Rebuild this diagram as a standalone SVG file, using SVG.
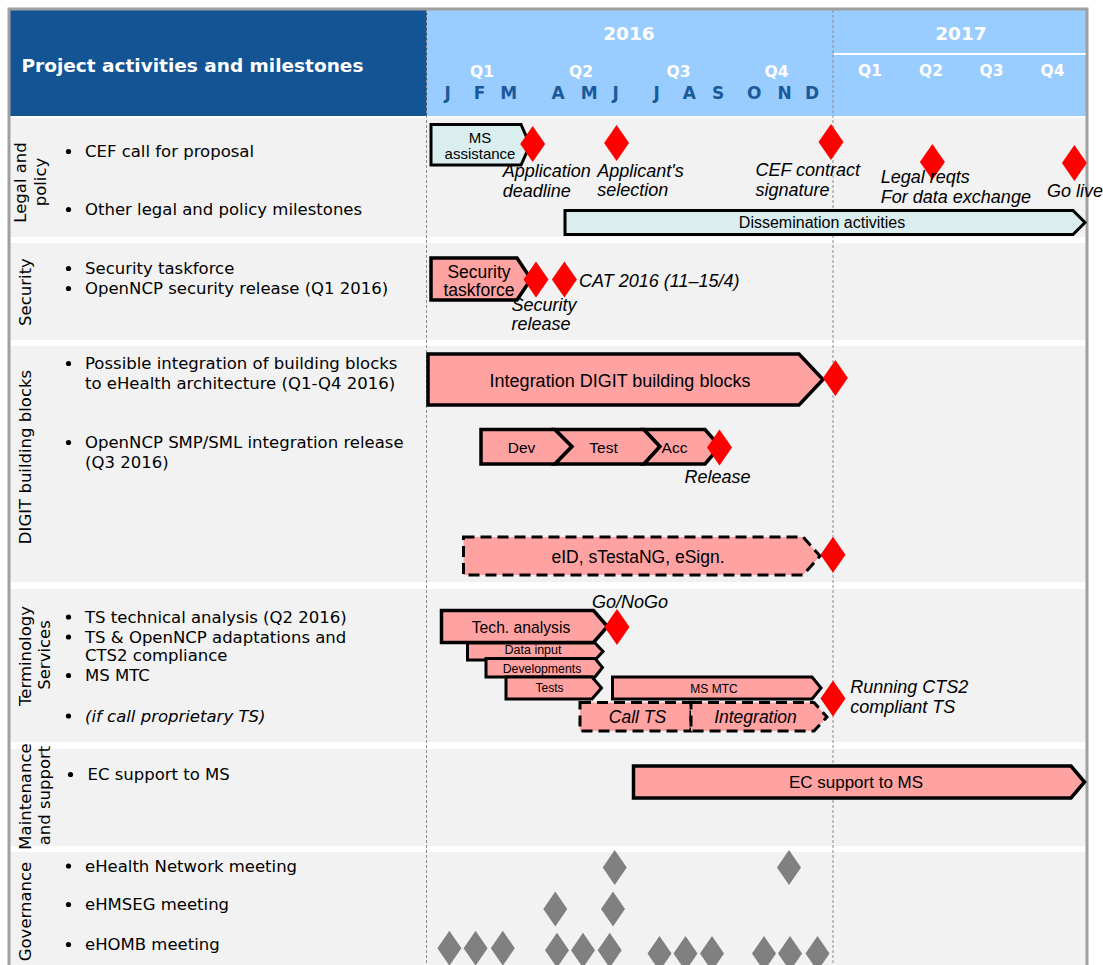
<svg xmlns="http://www.w3.org/2000/svg" xmlns:xlink="http://www.w3.org/1999/xlink" width="1103" height="965" viewBox="0 0 1103 965">
<style>
.row{fill:#F2F2F2}
.lbl{font-family:"DejaVu Sans",Verdana,sans-serif;font-size:16.5px;fill:#000}
.side{font-family:"DejaVu Sans",Verdana,sans-serif;font-size:16.5px;fill:#000;text-anchor:middle}
.hd{font-family:"DejaVu Sans",Verdana,sans-serif;font-weight:bold;fill:#fff;text-anchor:middle}
.mo{font-family:"DejaVu Sans",Verdana,sans-serif;font-weight:bold;font-size:17px;fill:#1B5A9A;text-anchor:middle}
.bx{font-family:"Liberation Sans",Arial,sans-serif;fill:#000;text-anchor:middle}
.it{font-family:"Liberation Sans",Arial,sans-serif;font-style:italic;font-size:18px;fill:#000}
.pink{fill:#FFA2A2;stroke:#000;stroke-width:3.5;stroke-linejoin:miter}
.cyan{fill:#DAEEF0;stroke:#000;stroke-width:3;stroke-linejoin:miter}
.dash{stroke-dasharray:11 6;stroke-width:3}
.red{fill:#FF0000}
.gray{fill:#808080}
.grid{stroke:#8C8C8C;stroke-width:1;stroke-dasharray:3 2;fill:none}
.dot{fill:#000}
</style>
<defs>
<path id="dia" d="M0,-18 L12.5,0 L0,18 L-12.5,0 Z"/>
<path id="gdia" d="M0,-17.5 L12,0 L0,17.5 L-12,0 Z"/>
</defs>

<g id="background">
<rect x="0" y="0" width="1103" height="965" fill="#fff"/>
<rect x="10" y="10" width="417" height="106" fill="#125494"/>
<rect x="427" y="10" width="659" height="106" fill="#99CCFF"/>
<line x1="834" y1="54" x2="1086" y2="54" stroke="#fff" stroke-width="2"/>
<rect class="row" x="10" y="118" width="1076" height="119"/>
<rect class="row" x="10" y="243" width="1076" height="97"/>
<rect class="row" x="10" y="346" width="1076" height="236"/>
<rect class="row" x="10" y="589" width="1076" height="153"/>
<rect class="row" x="10" y="749" width="1076" height="97"/>
<rect class="row" x="10" y="852" width="1076" height="120"/>
<line class="grid" x1="426.5" y1="10" x2="426.5" y2="965"/>
<line class="grid" x1="833" y1="10" x2="833" y2="965"/>
<rect x="9" y="9" width="1078" height="1000" fill="none" stroke="#A0A0A0" stroke-width="3"/>
</g>

<g id="header">
<text x="21.5" y="71.5" font-family="DejaVu Sans, Verdana, sans-serif" font-weight="bold" font-size="18.5" fill="#fff">Project activities and milestones</text>
<text class="hd" x="629" y="40" font-size="18.5">2016</text>
<text class="hd" x="961" y="39.5" font-size="18.5">2017</text>
<text class="hd" x="482" y="76.5" font-size="15.5">Q1</text>
<text class="hd" x="581" y="76.5" font-size="15.5">Q2</text>
<text class="hd" x="678.5" y="76.5" font-size="15.5">Q3</text>
<text class="hd" x="776.5" y="76.5" font-size="15.5">Q4</text>
<text class="hd" x="870" y="76" font-size="15.5">Q1</text>
<text class="hd" x="931" y="76" font-size="15.5">Q2</text>
<text class="hd" x="991.5" y="76" font-size="15.5">Q3</text>
<text class="hd" x="1052.5" y="76" font-size="15.5">Q4</text>
<text class="mo" x="447.6" y="99">J</text>
<text class="mo" x="479.5" y="99">F</text>
<text class="mo" x="508.6" y="99">M</text>
<text class="mo" x="558" y="99">A</text>
<text class="mo" x="589.3" y="99">M</text>
<text class="mo" x="615.6" y="99">J</text>
<text class="mo" x="656.7" y="99">J</text>
<text class="mo" x="689.4" y="99">A</text>
<text class="mo" x="718" y="99">S</text>
<text class="mo" x="754.2" y="99">O</text>
<text class="mo" x="784.7" y="99">N</text>
<text class="mo" x="812" y="99">D</text>
</g>

<g id="sidelabels">
<text class="side" transform="translate(26,182.5) rotate(-90)">Legal and</text>
<text class="side" transform="translate(45.5,182) rotate(-90)">policy</text>
<text class="side" transform="translate(31,292) rotate(-90)">Security</text>
<text class="side" transform="translate(31,457) rotate(-90)">DIGIT building blocks</text>
<text class="side" transform="translate(31,656) rotate(-90)">Terminology</text>
<text class="side" transform="translate(49.5,655) rotate(-90)">Services</text>
<text class="side" transform="translate(31,796.5) rotate(-90)">Maintenance</text>
<text class="side" transform="translate(49.5,795.5) rotate(-90)">and support</text>
<text class="side" transform="translate(31,911.5) rotate(-90)">Governance</text>
</g>

<g id="bullets">
<circle class="dot" cx="68.5" cy="151.5" r="2.6"/><text class="lbl" x="85" y="157">CEF call for proposal</text>
<circle class="dot" cx="68.5" cy="209.5" r="2.6"/><text class="lbl" x="85" y="215">Other legal and policy milestones</text>
<circle class="dot" cx="68.5" cy="268.5" r="2.6"/><text class="lbl" x="85" y="274">Security taskforce</text>
<circle class="dot" cx="68.5" cy="288.5" r="2.6"/><text class="lbl" x="85" y="294">OpenNCP security release (Q1 2016)</text>
<circle class="dot" cx="68.5" cy="363.5" r="2.6"/><text class="lbl" x="85" y="369">Possible integration of building blocks</text>
<text class="lbl" x="85" y="389">to eHealth architecture (Q1-Q4 2016)</text>
<circle class="dot" cx="68.5" cy="442.5" r="2.6"/><text class="lbl" x="85" y="448">OpenNCP SMP/SML integration release</text>
<text class="lbl" x="85" y="468">(Q3 2016)</text>
<circle class="dot" cx="68.5" cy="617" r="2.6"/><text class="lbl" x="85" y="622.5">TS technical analysis (Q2 2016)</text>
<circle class="dot" cx="68.5" cy="637" r="2.6"/><text class="lbl" x="85" y="642.5">TS &amp; OpenNCP adaptations and</text>
<text class="lbl" x="85" y="661">CTS2 compliance</text>
<circle class="dot" cx="68.5" cy="675.5" r="2.6"/><text class="lbl" x="85" y="681">MS MTC</text>
<circle class="dot" cx="68.5" cy="716" r="2.6"/><text class="lbl" x="85" y="721.5" font-style="italic">(if call proprietary TS)</text>
<circle class="dot" cx="70.5" cy="774.5" r="2.6"/><text class="lbl" x="87.5" y="780">EC support to MS</text>
<circle class="dot" cx="68.5" cy="866" r="2.6"/><text class="lbl" x="85" y="871.5">eHealth Network meeting</text>
<circle class="dot" cx="68.5" cy="904.5" r="2.6"/><text class="lbl" x="85" y="910">eHMSEG meeting</text>
<circle class="dot" cx="68.5" cy="944.5" r="2.6"/><text class="lbl" x="85" y="950">eHOMB meeting</text>
</g>

<g id="ms-assistance">
<path class="cyan" d="M431,124.5 H521 L530,145 L521,165 H431 Z"/>
<text class="bx" x="480" y="142.5" font-size="15">MS</text>
<text class="bx" x="480" y="159" font-size="15">assistance</text>
</g>
<g id="dissemination">
<path class="cyan" d="M565,210.5 H1073 L1085,222.5 L1073,234.5 H565 Z"/>
<text class="bx" x="822" y="228" font-size="16">Dissemination activities</text>
</g>
<g id="legal-milestones">
<use xlink:href="#dia" class="red" x="532.7" y="144"/>
<use xlink:href="#dia" class="red" x="616.6" y="143"/>
<use xlink:href="#dia" class="red" x="831" y="142"/>
<use xlink:href="#dia" class="red" x="932.4" y="162"/>
<use xlink:href="#dia" class="red" x="1074.4" y="163"/>
<text class="it" x="502.7" y="176.5">Application</text>
<text class="it" x="502.7" y="196.5">deadline</text>
<text class="it" x="597.3" y="176.5">Applicant's</text>
<text class="it" x="597.3" y="196">selection</text>
<text class="it" x="755.4" y="176">CEF contract</text>
<text class="it" x="755.4" y="196">signature</text>
<text class="it" x="880.8" y="183">Legal reqts</text>
<text class="it" x="880.8" y="202.5">For data exchange</text>
<text class="it" x="1047" y="196.5">Go live</text>
</g>

<g id="security-taskforce">
<path class="pink" d="M431,258 H517 L531,279 L517,300 H431 Z"/>
<text class="bx" x="479" y="277.5" font-size="17.5">Security</text>
<text class="bx" x="479" y="295.5" font-size="17.5">taskforce</text>
</g>
<g id="security-milestones">
<use xlink:href="#dia" class="red" x="536" y="279.5"/>
<use xlink:href="#dia" class="red" x="564.4" y="279.5"/>
<text class="it" x="579" y="286.5">CAT 2016 (11–15/4)</text>
<text class="it" x="511.5" y="311">Security</text>
<text class="it" x="511.5" y="330">release</text>
</g>

<g id="integration-digit">
<path class="pink" d="M428,354 H799 L823,379.5 L799,405 H428 Z"/>
<text class="bx" x="620" y="386.5" font-size="18">Integration DIGIT building blocks</text>
<use xlink:href="#dia" class="red" x="835.4" y="378"/>
</g>
<g id="smp-sml">
<path class="pink" d="M481,429.5 H555 L572,446.5 L555,464 H481 Z"/>
<path class="pink" d="M555,429.5 H644 L660,446.5 L644,464 H555 L572,446.5 Z"/>
<path class="pink" d="M644,429.5 H705 L720,446.5 L705,464 H644 L660,446.5 Z"/>
<text class="bx" x="521.5" y="452.5" font-size="15.5">Dev</text>
<text class="bx" x="603.5" y="452.5" font-size="15.5">Test</text>
<text class="bx" x="674.5" y="452.5" font-size="15.5">Acc</text>
<use xlink:href="#dia" class="red" x="719.5" y="447.5"/>
<text class="it" x="684.4" y="483">Release</text>
</g>
<g id="eid">
<path class="pink dash" d="M463.5,537 H803 L820,556 L803,575 H463.5 Z"/>
<text class="bx" x="638" y="562.5" font-size="17.5">eID, sTestaNG, eSign.</text>
<use xlink:href="#dia" class="red" x="833" y="554.7"/>
</g>

<g id="terminology">
<path class="pink" d="M441.5,610.5 H593.5 L607.5,626.5 L593.5,642.5 H441.5 Z"/>
<text class="bx" x="521" y="632.5" font-size="15.7">Tech. analysis</text>
<path class="pink" style="stroke-width:3" d="M467.5,643 H595 L603,651.5 L595,660 H467.5 Z"/>
<text class="bx" x="533" y="654" font-size="12.5">Data input</text>
<path class="pink" style="stroke-width:3" d="M486,658.5 H595 L602.5,667.5 L595,677 H486 Z"/>
<text class="bx" x="542" y="672.5" font-size="12.3">Developments</text>
<path class="pink" style="stroke-width:3" d="M506,677 H592 L601.5,688 L592,699 H506 Z"/>
<text class="bx" x="549.5" y="692" font-size="12">Tests</text>
<use xlink:href="#dia" class="red" x="617" y="627"/>
<text class="it" x="592" y="608">Go/NoGo</text>
</g>
<g id="ms-mtc">
<path class="pink" style="stroke-width:3" d="M612.5,677 H812 L821,688 L812,699 H612.5 Z"/>
<text class="bx" x="714" y="692.5" font-size="12">MS MTC</text>
</g>
<g id="call-ts">
<path class="pink dash" d="M580,702.5 H691 V731 H580 Z"/>
<text class="bx" x="637.5" y="723" font-size="17.5" font-style="italic">Call TS</text>
<path class="pink dash" d="M691,702.5 H814 L827,717 L814,731 H691 Z"/>
<text class="bx" x="755.5" y="723" font-size="17.5" font-style="italic">Integration</text>
<use xlink:href="#dia" class="red" x="833" y="698.5"/>
<text class="it" x="850.3" y="693">Running CTS2</text>
<text class="it" x="850.3" y="712.5">compliant TS</text>
</g>

<g id="ec-support">
<path class="pink" d="M633.5,766 H1071 L1084.5,782 L1071,798 H633.5 Z"/>
<text class="bx" x="856" y="788" font-size="17">EC support to MS</text>
</g>

<g id="governance">
<use xlink:href="#gdia" class="gray" x="614.7" y="867.5"/>
<use xlink:href="#gdia" class="gray" x="789" y="867.5"/>
<use xlink:href="#gdia" class="gray" x="555.3" y="909"/>
<use xlink:href="#gdia" class="gray" x="613" y="909"/>
<use xlink:href="#gdia" class="gray" x="449.4" y="948.2"/>
<use xlink:href="#gdia" class="gray" x="475.6" y="948.2"/>
<use xlink:href="#gdia" class="gray" x="502.8" y="948.2"/>
<use xlink:href="#gdia" class="gray" x="557" y="950.2"/>
<use xlink:href="#gdia" class="gray" x="583" y="950.2"/>
<use xlink:href="#gdia" class="gray" x="609.7" y="950.2"/>
<use xlink:href="#gdia" class="gray" x="659.5" y="953.5"/>
<use xlink:href="#gdia" class="gray" x="685.5" y="953.5"/>
<use xlink:href="#gdia" class="gray" x="712" y="953.5"/>
<use xlink:href="#gdia" class="gray" x="764" y="953.5"/>
<use xlink:href="#gdia" class="gray" x="790" y="953.5"/>
<use xlink:href="#gdia" class="gray" x="817.5" y="953.5"/>
</g>

<g id="connectors"></g>
</svg>
